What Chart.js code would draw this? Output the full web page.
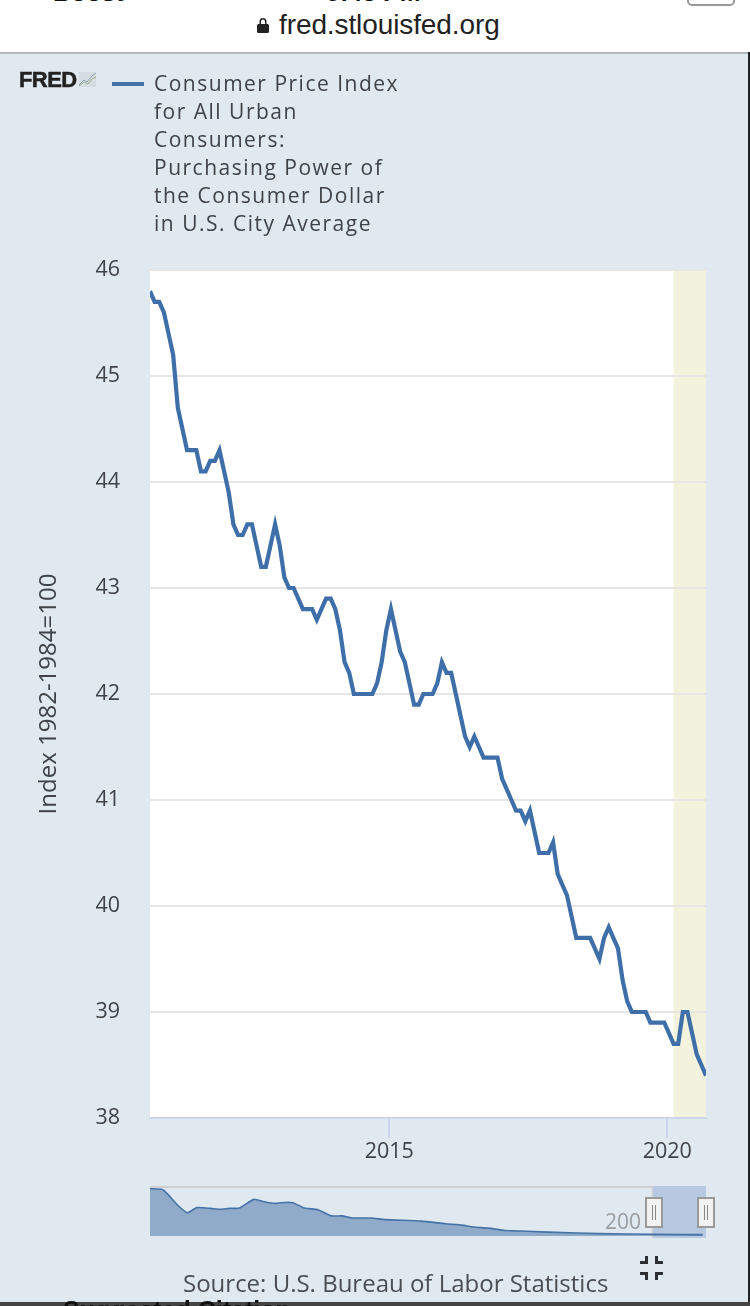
<!DOCTYPE html>
<html>
<head>
<meta charset="utf-8">
<title>Consumer Price Index for All Urban Consumers: Purchasing Power of the Consumer Dollar</title>
<script src="https://cdn.jsdelivr.net/npm/chart.js@4/dist/chart.umd.min.js"></script>
<style>
  html, body { margin: 0; padding: 0; }
  body { position: relative; width: 750px; height: 1306px; overflow: hidden; background: #e1e9f0; font-family: "Open Sans", sans-serif; color: #3f4347; }
  canvas { position: absolute; }
  .abs { position: absolute; white-space: nowrap; }
  #topbar { left: 0; top: 0; width: 750px; height: 52px; background: #fff; border-bottom: 2px solid #b4b8bc; }
  #url { left: 279px; top: 9px; font: 28px/32px "Liberation Sans", sans-serif; color: #222; letter-spacing: -0.1px; }
  #lock { left: 257px; top: 17px; }
  #status { left: 53px; top: -21px; font: bold 25px/26px "Liberation Sans", sans-serif; color: #111; }
  #clock { left: 326px; top: -21px; font: bold 25px/26px "Liberation Sans", sans-serif; color: #111; }
  #battery { left: 687px; top: -20px; width: 44px; height: 22px; border: 2px solid #999; border-radius: 5px; }
  #edge { left: 748px; top: 52px; width: 2px; height: 1254px; background: #222; }
  #logo { left: 19px; top: 69px; font: bold 22px/22px "Liberation Sans", sans-serif; color: #222; letter-spacing: -0.6px; -webkit-text-stroke: 0.5px #222; }
  #spark { left: 79px; top: 72px; }
  #legendLine { left: 112px; top: 82px; width: 32px; height: 4px; background: #4572a7; }
  #legend { left: 154px; top: 69px; font-size: 21px; line-height: 28px; letter-spacing: 1.5px; white-space: pre; }
  #source { left: 183px; top: 1268px; font-size: 24px; line-height: 30px; color: #4a4e52; }
  #navLabel { left: 605px; top: 1207px; font-size: 21px; line-height: 28px; color: #9a9da0; }
  .handle { top: 1197px; width: 14px; height: 27px; background: #f2f2f2; border: 2px solid #999; }
  .handle i { position: absolute; top: 6px; width: 1px; height: 15px; background: #888; }
  #icon { left: 640px; top: 1255px; }
  #bottom { left: 0; top: 1302px; width: 750px; height: 4px; background: #444; overflow: hidden; }
  #cite { left: 63px; top: 1295px; font: bold 25px/30px "Liberation Sans", sans-serif; color: #111; }
</style>
</head>
<body>
<canvas id="mainChart" width="750" height="1306" style="left:0;top:0;width:750px;height:1306px"></canvas>
<canvas id="navChart" width="556" height="52" style="left:150px;top:1186px;width:556px;height:52px"></canvas>

<div class="abs" id="topbar"></div>
<div class="abs" id="status">Boost</div>
<div class="abs" id="clock">5:43 PM</div>
<div class="abs" id="battery"></div>
<svg class="abs" id="lock" width="12" height="16" viewBox="0 0 12 16"><path d="M2.5 7V4.5a3.5 3.5 0 0 1 7 0V7h1a1.5 1.5 0 0 1 1.5 1.5v6a1.5 1.5 0 0 1-1.5 1.5h-9A1.5 1.5 0 0 1 0 14.5v-6A1.5 1.5 0 0 1 1.5 7zM4 7h4V4.5a2 2 0 0 0-4 0z" fill="#222"/></svg>
<div class="abs" id="url">fred.stlouisfed.org</div>
<div class="abs" id="edge"></div>

<div class="abs" id="logo">FRED</div>
<svg class="abs" id="spark" width="17" height="15" viewBox="0 0 17 15"><rect width="17" height="15" fill="#d5dde2"/><path d="M0 13L5 8L8 10L13 4L17 1" fill="none" stroke="#8aa0b0" stroke-width="1"/><path d="M0 14L5 10L9 12L13 7L17 5" fill="none" stroke="#9cb08c" stroke-width="1"/></svg>
<div class="abs" id="legendLine"></div>
<div class="abs" id="legend"></div>

<div class="abs" id="navLabel">200</div>
<div class="abs handle" style="left:645px"><i style="left:5px"></i><i style="left:8px"></i></div>
<div class="abs handle" style="left:697px"><i style="left:5px"></i><i style="left:8px"></i></div>
<svg class="abs" id="icon" width="25" height="26" viewBox="0 0 25 26"><path d="M5 1h3v8H0V6h5zM15 1h3v5h5v3h-8zM0 17h8v8H5v-5H0zM15 17h8v3h-5v5h-3z" fill="#2b2f33"/></svg>
<div class="abs" id="source">Source: U.S. Bureau of Labor Statistics</div>
<div class="abs" id="bottom"></div>
<div class="abs" id="cite">Suggested Citation:</div>

<script>
const seriesName = ['Consumer Price Index', 'for All Urban', 'Consumers:', 'Purchasing Power of', 'the Consumer Dollar', 'in U.S. City Average'];
const yAxisTitle = 'Index 1982-1984=100';

// monthly, Sep 2010 to Sep 2020
const firstYear = 2010;
const firstMonth = 8;
const purchasingPower = [
  45.8, 45.7, 45.7, 45.6, 45.4, 45.2, 44.7, 44.5, 44.3, 44.3, 44.3, 44.1,
  44.1, 44.2, 44.2, 44.3, 44.1, 43.9, 43.6, 43.5, 43.5, 43.6, 43.6, 43.4,
  43.2, 43.2, 43.4, 43.6, 43.4, 43.1, 43.0, 43.0, 42.9, 42.8, 42.8, 42.8,
  42.7, 42.8, 42.9, 42.9, 42.8, 42.6, 42.3, 42.2, 42.0, 42.0, 42.0, 42.0,
  42.0, 42.1, 42.3, 42.6, 42.8, 42.6, 42.4, 42.3, 42.1, 41.9, 41.9, 42.0,
  42.0, 42.0, 42.1, 42.3, 42.2, 42.2, 42.0, 41.8, 41.6, 41.5, 41.6, 41.5,
  41.4, 41.4, 41.4, 41.4, 41.2, 41.1, 41.0, 40.9, 40.9, 40.8, 40.9, 40.7,
  40.5, 40.5, 40.5, 40.6, 40.3, 40.2, 40.1, 39.9, 39.7, 39.7, 39.7, 39.7,
  39.6, 39.5, 39.7, 39.8, 39.7, 39.6, 39.3, 39.1, 39.0, 39.0, 39.0, 39.0,
  38.9, 38.9, 38.9, 38.9, 38.8, 38.7, 38.7, 39.0, 39.0, 38.8, 38.6, 38.5,
  38.4
];
const yTicks = [38, 39, 40, 41, 42, 43, 44, 45, 46];
const xTickYears = [2015, 2020];
const recession = [2020.083, 2020.75];

// navigator (whole history)
const navYears = [1913, 1915.4, 1916.4, 1918.4, 1920.3, 1922.1, 1924.8, 1926.6, 1928.5, 1930.4, 1933.2, 1935.2, 1937.4, 1939.2, 1940.8, 1943.1, 1945.7, 1948.3, 1950.4, 1952.3, 1956, 1958.8, 1965.8, 1970.5, 1973.7, 1976, 1978.9, 1982.1, 1986.3, 1991.9, 2000.3, 2011, 2020.6];
const navValues = [1010, 995, 900, 660, 500, 610, 595, 575, 595, 600, 785, 735, 700, 720, 715, 600, 565, 435, 435, 390, 390, 355, 325, 270, 240, 200, 175, 125, 110, 85, 60, 45, 38];
const navSelection = [2010.85, 2021.25];

document.getElementById('legend').textContent = seriesName.join('\n');

const lineColor = '#3f6fa8';
const tickFont = { family: 'Open Sans', size: 21.5 };

const points = purchasingPower.map(function(v, i) {
  return { x: firstYear + (firstMonth + i) / 12, y: v };
});

// white plot area and the recession band, under the gridlines
const plotBackground = {
  id: 'plotBackground',
  beforeDraw: function(chart) {
    const a = chart.chartArea;
    const ctx = chart.ctx;
    const x0 = chart.scales.x.getPixelForValue(recession[0]);
    ctx.save();
    ctx.fillStyle = '#ffffff';
    ctx.fillRect(a.left, a.top, a.width, a.height);
    ctx.fillStyle = '#f3f3dd';
    ctx.fillRect(x0, a.top, a.right - x0, a.height);
    ctx.restore();
  }
};

new Chart(document.getElementById('mainChart').getContext('2d'), {
  type: 'line',
  data: {
    datasets: [{
      label: seriesName.join(' '),
      data: points,
      borderColor: lineColor,
      borderWidth: 4.2,
      pointRadius: 0,
      tension: 0,
      borderJoinStyle: 'miter'
    }]
  },
  options: {
    responsive: false,
    animation: false,
    devicePixelRatio: 1,
    layout: { padding: { top: 270, right: 44, left: 0, bottom: 0 } },
    plugins: { legend: { display: false }, tooltip: { enabled: false } },
    scales: {
      x: {
        type: 'linear',
        min: firstYear + firstMonth / 12,
        max: firstYear + (firstMonth + purchasingPower.length - 1) / 12,
        // the ticks sit a hair left of the January points in the original
        afterBuildTicks: function(axis) {
          axis.ticks = xTickYears.map(function(y) { return { value: y - 0.03 }; });
        },
        afterFit: function(axis) { axis.height = 188; },
        border: { color: '#ccd6eb', width: 2 },
        grid: { drawOnChartArea: false, color: '#ccd6eb', lineWidth: 2, tickLength: 20 },
        ticks: {
          autoSkip: false,
          maxRotation: 0,
          padding: 1,
          color: '#3f4347',
          font: tickFont,
          callback: function(value) { return String(Math.round(value)); }
        }
      },
      y: {
        min: yTicks[0],
        max: yTicks[yTicks.length - 1],
        afterBuildTicks: function(axis) {
          axis.ticks = yTicks.map(function(v) { return { value: v }; });
        },
        afterFit: function(axis) { axis.width = 150; },
        border: { display: false },
        grid: { color: '#e6e6e6', lineWidth: 2, drawTicks: false },
        title: {
          display: true,
          text: yAxisTitle,
          color: '#3f4347',
          font: { family: 'Open Sans', size: 24 },
          padding: { top: 35, bottom: 0 }
        },
        ticks: { padding: 30, color: '#3f4347', font: tickFont }
      }
    }
  },
  plugins: [plotBackground]
});

// selected range of the navigator, with its frame line on top
const navBackground = {
  id: 'navBackground',
  beforeDraw: function(chart) {
    const ctx = chart.ctx;
    const x0 = chart.scales.x.getPixelForValue(navSelection[0]);
    const x1 = chart.scales.x.getPixelForValue(navSelection[1]);
    ctx.save();
    ctx.fillStyle = '#b8c8e0';
    ctx.fillRect(x0, 0, x1 - x0, chart.height);
    ctx.fillStyle = '#cfcfcf';
    ctx.fillRect(0, 0, x0, 2);
    ctx.fillRect(x0 - 1, 0, 1, chart.height);
    ctx.restore();
  }
};

new Chart(document.getElementById('navChart').getContext('2d'), {
  type: 'line',
  data: {
    datasets: [{
      data: navYears.map(function(y, i) { return { x: y, y: navValues[i] }; }),
      borderColor: '#4572a7',
      borderWidth: 1.6,
      backgroundColor: 'rgba(69,114,167,0.52)',
      fill: 'start',
      pointRadius: 0,
      tension: 0.15
    }]
  },
  options: {
    responsive: false,
    animation: false,
    devicePixelRatio: 1,
    layout: { padding: { top: 0, right: 0, bottom: 2, left: 0 } },
    plugins: { legend: { display: false }, tooltip: { enabled: false } },
    scales: {
      x: { type: 'linear', display: false, min: navYears[0], max: navSelection[1] },
      y: { display: false, min: 9, max: 1068 }
    }
  },
  plugins: [navBackground]
});
</script>
</body>
</html>
